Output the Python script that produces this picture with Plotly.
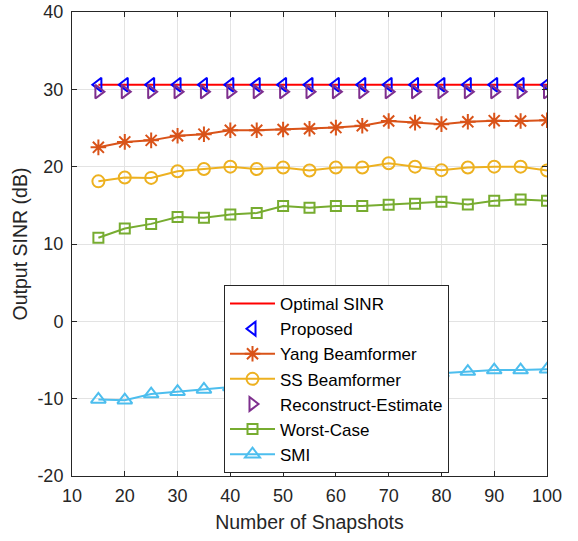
import plotly.graph_objects as go

snapshots = [15, 20, 25, 30, 35, 40, 45, 50, 55, 60, 65, 70, 75, 80, 85, 90, 95, 100]

optimal = [30.6] * 18
proposed = [30.6] * 18
reconstruct = [29.7] * 18
yang = [22.5, 23.2, 23.4, 24.0, 24.2, 24.7, 24.7, 24.8, 24.9, 25.05, 25.3, 25.9, 25.7, 25.5, 25.8, 25.95, 25.9, 26.0]
ss = [18.1, 18.6, 18.55, 19.4, 19.7, 20.0, 19.7, 19.9, 19.5, 19.9, 19.9, 20.45, 20.0, 19.55, 19.9, 20.0, 20.0, 19.5]
worst = [10.8, 12.0, 12.6, 13.5, 13.4, 13.8, 14.0, 14.9, 14.7, 14.9, 14.9, 15.07, 15.2, 15.46, 15.1, 15.6, 15.77, 15.6]
smi = [-10.1, -10.2, -9.4, -9.1, -8.8, -8.5, -8.2, -7.9, -7.7, -7.5, -7.3, -7.0, -6.9, -6.7, -6.5, -6.3, -6.3, -6.2]

xticks = [10, 20, 30, 40, 50, 60, 70, 80, 90, 100]
yticks = [-20, -10, 0, 10, 20, 30, 40]
ytick_labels = ["-20", "-10", "0", "10", "20", "30", "40"]

FONT = "Liberation Sans, Arial, sans-serif"

fig = go.Figure()
fig.add_trace(go.Scatter(x=snapshots, y=optimal, mode="lines", name="Optimal SINR",
                         line=dict(color="#FF0000", width=2)))
fig.add_trace(go.Scatter(x=snapshots, y=proposed, mode="markers", name="Proposed",
                         marker=dict(symbol="triangle-left-open", size=12, color="#0000FF",
                                     line=dict(width=2, color="#0000FF"))))
fig.add_trace(go.Scatter(x=snapshots, y=yang, mode="lines+markers", name="Yang Beamformer",
                         line=dict(color="#D95319", width=2),
                         marker=dict(symbol="asterisk-open", size=13, color="#D95319",
                                     line=dict(width=2, color="#D95319"))))
fig.add_trace(go.Scatter(x=snapshots, y=ss, mode="lines+markers", name="SS Beamformer",
                         line=dict(color="#EDB120", width=2),
                         marker=dict(symbol="circle-open", size=12, color="#EDB120",
                                     line=dict(width=2, color="#EDB120"))))
fig.add_trace(go.Scatter(x=snapshots, y=reconstruct, mode="markers", name="Reconstruct-Estimate",
                         marker=dict(symbol="triangle-right-open", size=12, color="#7E2F8E",
                                     line=dict(width=2, color="#7E2F8E"))))
fig.add_trace(go.Scatter(x=snapshots, y=worst, mode="lines+markers", name="Worst-Case",
                         line=dict(color="#77AC30", width=2),
                         marker=dict(symbol="square-open", size=10, color="#77AC30",
                                     line=dict(width=2, color="#77AC30"))))
fig.add_trace(go.Scatter(x=snapshots, y=smi, mode="lines+markers", name="SMI",
                         line=dict(color="#4DBEEE", width=2),
                         marker=dict(symbol="triangle-up-open", size=13, color="#4DBEEE",
                                     line=dict(width=2, color="#4DBEEE"))))

axis_common = dict(showgrid=True, gridcolor="#E3E3E3", gridwidth=1, zeroline=False,
                   showline=True, linecolor="#262626", linewidth=1, mirror="ticks",
                   ticks="inside", ticklen=5, tickcolor="#262626", automargin=False,
                   tickfont=dict(family=FONT, size=18, color="#262626"))

fig.update_layout(
    width=578, height=541,
    margin=dict(l=72, r=31, t=12, b=65),
    paper_bgcolor="white", plot_bgcolor="white",
    font=dict(family=FONT, color="#262626"),
    xaxis=dict(range=[10, 100], tickvals=xticks, ticklabelstandoff=3,
               title=dict(text="Number of Snapshots", font=dict(family=FONT, size=19.5, color="#262626"), standoff=10),
               **axis_common),
    yaxis=dict(range=[-20, 40], tickvals=yticks, ticktext=ytick_labels, ticklabelstandoff=4,
               title=dict(text="Output SINR (dB)", font=dict(family=FONT, size=19.5, color="#262626"), standoff=4),
               **axis_common),
    legend=dict(x=0.32, y=0.4116, xanchor="left", yanchor="top",
                bgcolor="white", bordercolor="#262626", borderwidth=1,
                font=dict(family=FONT, size=17, color="#000000"),
                itemwidth=45, tracegroupgap=0),
    showlegend=True,
)

fig.write_html("out.html")
